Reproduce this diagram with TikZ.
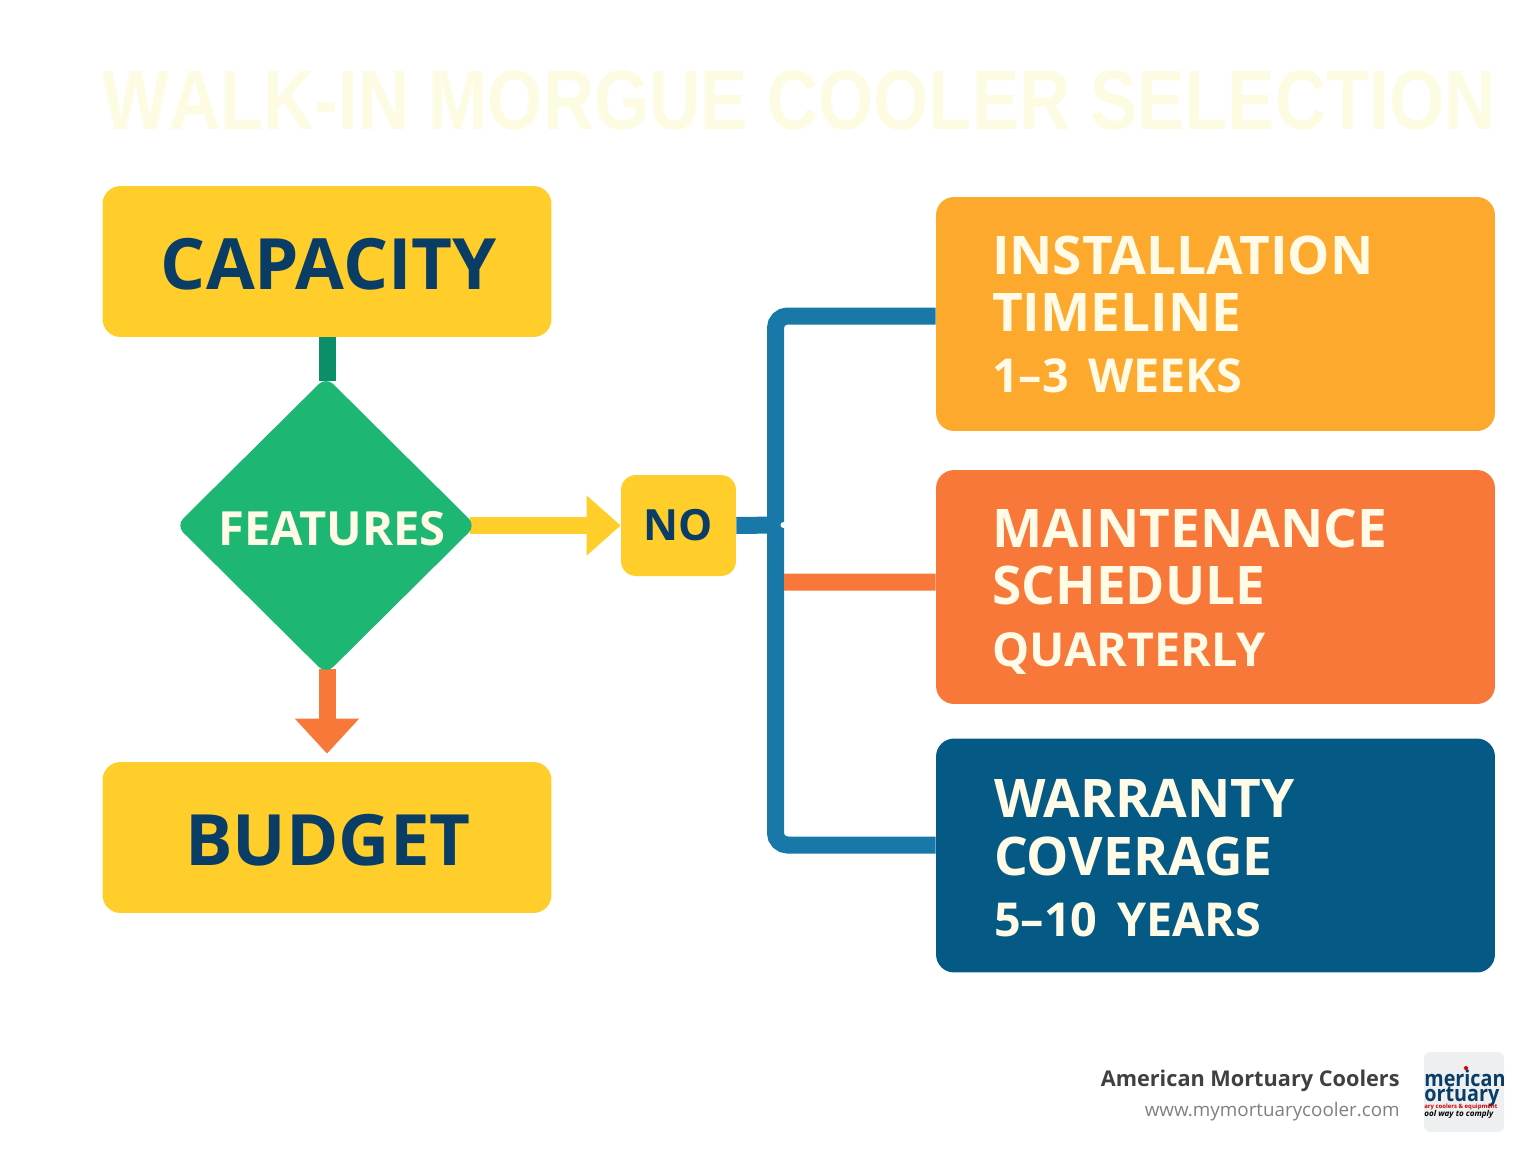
\documentclass[tikz,border=0pt]{standalone}
\usepackage{fontspec}
\setmainfont{Open Sans}
\newfontfamily\titlefont{Liberation Sans}[FakeStretch=0.84,Kerning=Off]
\newfontfamily\footfont{Open Sans}
\newfontfamily\logofont{Open Sans}[FakeStretch=0.9]
\usetikzlibrary{arrows.meta,shapes.geometric}
\pgfdeclarelayer{background}
\pgfsetlayers{background,main}
\definecolor{boxyellow}{HTML}{FFCE2A}
\definecolor{boxgreen}{HTML}{1DB673}
\definecolor{boxamber}{HTML}{FDA92E}
\definecolor{boxorange}{HTML}{F77838}
\definecolor{boxnavy}{HTML}{055A85}
\definecolor{busblue}{HTML}{1878A8}
\definecolor{darkgreen}{HTML}{0B8F68}
\definecolor{inkdark}{HTML}{0A3D66}
\definecolor{inkcream}{HTML}{FFFBE6}
\definecolor{titlecream}{HTML}{FDFCE3}
\definecolor{logogrey}{HTML}{EEEFF0}
\newcommand{\headfont}{\fontsize{30.3pt}{32.5pt}\selectfont\bfseries}
\newcommand{\subfont}{\fontsize{26.6pt}{32.5pt}\selectfont\bfseries}
\tikzset{
  yellowbox/.style={fill=boxyellow,rounded corners=0.36cm,minimum width=8.98cm,minimum height=3.02cm,text height=32.2pt,text depth=0pt,text=inkdark,font=\fontsize{40.3pt}{44pt}\selectfont\bfseries},
  rightbox/.style={rounded corners=0.36cm,minimum width=11.18cm,minimum height=4.68cm,text width=8.94cm,inner xsep=1.12cm,align=left,text=inkcream},
  link/.style={line width=0.34cm}
}
\begin{document}
\begin{tikzpicture}[x=0.02cm,y=-0.02cm]
\useasboundingbox (0,0) rectangle (1536,1154);
\node[text=titlecream,font=\titlefont\fontsize{48pt}{50pt}\selectfont\bfseries] (title) at (799,100) {WALK-IN MORGUE COOLER SELECTION};
%
\node[yellowbox] (capacity) at (327,261.5) {\hspace*{0.08cm}CAPACITY};
\node[yellowbox] (budget) at (327,837.5) {\hspace*{0.04cm}BUDGET};
\node[diamond,fill=boxgreen,rounded corners=0.2cm,inner sep=0pt,minimum width=6cm,minimum height=5.95cm,text height=22.5pt,text depth=0pt,text=inkcream,font=\fontsize{26.8pt}{32pt}\selectfont\bfseries] (features) at (326,525.5) {\hspace*{0.24cm}FEATURES};
\node[fill=boxyellow,rounded corners=0.3cm,minimum width=2.3cm,minimum height=2.02cm,text=inkdark,font=\fontsize{24.5pt}{29pt}\selectfont\bfseries] (no) at (678.5,525.5) {NO};
%
\node[rightbox,fill=boxamber] (installation) at (1215.5,314) {\headfont INSTALLATION\\ TIMELINE\\[14.4pt] \subfont 1--3\hspace{0.42em}WEEKS};
\node[rightbox,fill=boxorange] (maintenance) at (1215.5,587) {\headfont\rule{0pt}{27.3pt}MAINTENANCE\\ SCHEDULE\\[14.4pt] \subfont QUARTERLY};
\node[rightbox,fill=boxnavy,text width=8.86cm,inner xsep=1.16cm] (warranty) at (1215.5,855.5) {\headfont\rule{0pt}{25pt}WARRANTY\\ COVERAGE\\[14.4pt] \subfont 5--10\hspace{0.42em}YEARS};
%
\coordinate (bus) at (775.5,525);
\begin{pgfonlayer}{background}
\draw[link,darkgreen] (capacity.south) -- ([yshift=-0.1cm]capacity.south |- features.north);
\draw[link,boxorange,-{Triangle[length=0.7cm,width=1.24cm]}] ([yshift=0.12cm]features.south -| budget.north) -- ([yshift=0.16cm]budget.north);
\draw[link,boxyellow,-{Triangle[length=0.68cm,width=1.16cm]}] ([xshift=-0.12cm]features.east) -- (no.west);
\draw[link,busblue] (no.east) -- (bus);
\draw[link,busblue,rounded corners=0.24cm] ([yshift=-0.04cm]installation.west) -| (bus) |- ([yshift=0.21cm]warranty.west);
\draw[link,boxorange] ([yshift=0.1cm]maintenance.west) -- (784,582);
\fill[white] (783.5,525) circle (0.06cm);
\end{pgfonlayer}
%
\node[anchor=east,text=black!75,inner sep=0pt,font=\footfont\fontsize{12.35pt}{15pt}\selectfont\bfseries] (brand) at (1400,1081) {American Mortuary Coolers};
\node[anchor=east,text=black!50,inner sep=0pt,font=\footfont\fontsize{10.7pt}{13pt}\selectfont] (site) at (1400,1112) {www.mymortuarycooler.com};
%
\node[fill=logogrey,rounded corners=0.12cm,minimum width=1.6cm,minimum height=1.6cm,inner sep=0pt] (logo) at (1464,1092) {};
\begin{scope}
\clip (1424,1052) rectangle (1504,1132);
\node[anchor=base west,inner sep=0pt,text=inkdark,font=\logofont\fontsize{12.5pt}{14pt}\selectfont\bfseries] (logoa) at (1424,1086) {merican};
\node[anchor=base west,inner sep=0pt,text=inkdark,font=\logofont\fontsize{12.5pt}{14pt}\selectfont\bfseries] (logob) at (1424,1101) {ortuary};
\node[anchor=base west,inner sep=0pt,text=red!80!black,font=\fontsize{3.4pt}{5pt}\selectfont\bfseries] (logoc) at (1424,1108.5) {ary coolers \& equipment};
\node[anchor=base west,inner sep=0pt,text=black,font=\fontsize{4.6pt}{5pt}\selectfont\bfseries\itshape] (logod) at (1424,1116) {ool way to comply};
\node[star,star points=5,fill=red!80!black,minimum size=0.1cm,inner sep=0pt] (logostar) at (1466,1068) {};
\end{scope}
\end{tikzpicture}
\end{document}
